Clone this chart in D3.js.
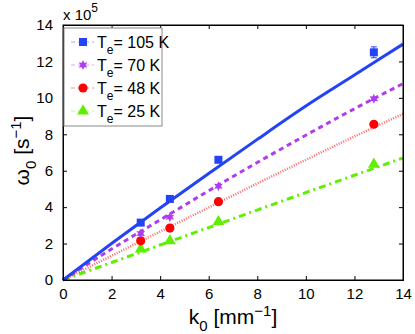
<!DOCTYPE html>
<html>
<head>
<meta charset="utf-8">
<script src="https://cdn.jsdelivr.net/npm/d3@7"></script>
<style>
  body { margin: 0; background: #fff; }
  svg text { font-family: "Liberation Sans", Arial, sans-serif; fill: #000; }
</style>
</head>
<body>
<div id="chart"></div>
<script>
// measured points (k0 in mm^-1, omega0 in units of 1e5 s^-1)
const kMeasured = [3.2, 4.4, 6.4, 12.8];
const w105 = [3.15, 4.45, 6.6, 12.5];
const w105err = [0.15, 0.1, 0.15, 0.3];
const w70 = [2.55, 3.45, 5.15, 9.95];
const w48 = [2.15, 2.85, 4.3, 8.55];
const w25 = [1.7, 2.15, 3.2, 6.35];

// model curves
const kModel = [0, 2, 4, 6, 8, 10, 12, 14];
const m105 = [0, 2.0, 3.95, 5.85, 7.72, 9.55, 11.25, 12.95];
const m70 = [0, 1.7, 3.3, 4.9, 6.45, 7.95, 9.4, 10.78];
const m48 = [0, 1.33, 2.66, 3.98, 5.3, 6.6, 7.88, 9.12];
const m25 = [0, 0.96, 1.92, 2.88, 3.84, 4.8, 5.75, 6.7];

const xTicks = [0, 2, 4, 6, 8, 10, 12, 14];
const yTicks = [0, 2, 4, 6, 8, 10, 12, 14];

const seriesNames = ["105 K", "70 K", "48 K", "25 K"];
const colors = ["#2244f5", "#b03cf2", "#ff0000", "#5ef000"];

const W = 415, H = 334;
const margin = { top: 25, right: 12, bottom: 54, left: 63 };
const iw = W - margin.left - margin.right;
const ih = H - margin.top - margin.bottom;

const svg = d3.select("#chart").append("svg")
  .attr("width", W).attr("height", H);

const g = svg.append("g")
  .attr("transform", `translate(${margin.left},${margin.top})`);

const x = d3.scaleLinear().domain([0, 14]).range([0, iw]);
const y = d3.scaleLinear().domain([0, 14]).range([ih, 0]);

// line styles per series
const styles = [
  { width: 3, dash: null, op: 1 },
  { width: 3, dash: "5,4", op: 1 },
  { width: 2.5, dash: "1,1.5", op: 0.6 },
  { width: 3, dash: "7,4,2,4", op: 1 }
];
const models = [m105, m70, m48, m25];
const measured = [w105, w70, w48, w25];

const line = d3.line().x(d => x(d[0])).y(d => y(d[1])).curve(d3.curveMonotoneX);

// draw in reverse so blue sits on top
for (let i = 3; i >= 0; i--) {
  g.append("path")
    .datum(kModel.map((k, j) => [k, models[i][j]]))
    .attr("fill", "none")
    .attr("stroke", colors[i])
    .attr("stroke-opacity", styles[i].op)
    .attr("stroke-width", styles[i].width)
    .attr("stroke-dasharray", styles[i].dash)
    .attr("d", line);
}

// six-pointed star like matlab's hexagram marker
const hexagram = {
  draw(ctx, size) {
    const R = Math.sqrt(size) * 0.6, r = R * 0.5;
    for (let k = 0; k < 12; k++) {
      const a = -Math.PI / 2 + k * Math.PI / 6;
      const rr = k % 2 ? r : R;
      if (k === 0) ctx.moveTo(rr * Math.cos(a), rr * Math.sin(a));
      else ctx.lineTo(rr * Math.cos(a), rr * Math.sin(a));
    }
    ctx.closePath();
  }
};

const symbols = [d3.symbolSquare, hexagram, d3.symbolCircle, d3.symbolTriangle];
const sizes = [64, 70, 66, 60];

function marker(sel, i, cx, cy) {
  return sel.append("path")
    .attr("d", d3.symbol().type(symbols[i]).size(sizes[i])())
    .attr("transform", `translate(${cx},${cy})`)
    .attr("fill", colors[i]);
}

// error bars on the 105 K set
const errG = g.append("g");
kMeasured.forEach((k, j) => {
  const cx = x(k);
  const y0 = y(w105[j] - w105err[j]), y1 = y(w105[j] + w105err[j]);
  errG.append("line").attr("x1", cx).attr("x2", cx).attr("y1", y0).attr("y2", y1)
    .attr("stroke", colors[0]).attr("stroke-width", 1);
  [y0, y1].forEach(yy => errG.append("line")
    .attr("x1", cx - 3).attr("x2", cx + 3).attr("y1", yy).attr("y2", yy)
    .attr("stroke", colors[0]).attr("stroke-width", 1));
});

for (let i = 3; i >= 0; i--) {
  const mg = g.append("g");
  kMeasured.forEach((k, j) => marker(mg, i, x(k), y(measured[i][j])));
}

// box + axes (ticks inward on all sides)
const tickLen = 4;
g.append("rect").attr("width", iw).attr("height", ih)
  .attr("fill", "none").attr("stroke", "#000").attr("stroke-width", 1);

const xAxis = g.append("g").attr("transform", `translate(0,${ih})`)
  .call(d3.axisBottom(x).tickValues(xTicks).tickSize(-tickLen).tickPadding(8).tickFormat(d3.format("d")));
const xAxisTop = g.append("g")
  .call(d3.axisTop(x).tickValues(xTicks).tickSize(-tickLen).tickFormat(""));
const yAxis = g.append("g")
  .call(d3.axisLeft(y).tickValues(yTicks).tickSize(-tickLen).tickPadding(10).tickFormat(d3.format("d")));
const yAxisRight = g.append("g").attr("transform", `translate(${iw},0)`)
  .call(d3.axisRight(y).tickValues(yTicks).tickSize(-tickLen).tickFormat(""));

[xAxis, xAxisTop, yAxis, yAxisRight].forEach(a => {
  a.select(".domain").attr("stroke", "#000");
  a.selectAll(".tick line").attr("stroke", "#000");
  a.selectAll("text").style("font-size", "15px").attr("fill", "#000");
});

// exponent label
const expo = svg.append("text")
  .attr("x", margin.left).attr("y", 20)
  .style("font-size", "15px");
expo.append("tspan").text("x 10");
expo.append("tspan").attr("dy", -8).style("font-size", "12px").text("5");

// axis labels
const xl = svg.append("text")
  .attr("x", margin.left + iw / 2).attr("y", 324)
  .attr("text-anchor", "middle").style("font-size", "21px");
xl.append("tspan").text("k");
xl.append("tspan").attr("dy", 7).style("font-size", "15px").text("0");
xl.append("tspan").attr("dy", -7).text(" [mm");
xl.append("tspan").attr("dy", -8).style("font-size", "15px").text("\u22121");
xl.append("tspan").attr("dy", 8).text("]");

const yl = svg.append("text")
  .attr("transform", `translate(29,${margin.top + ih / 2 - 2}) rotate(-90)`)
  .attr("text-anchor", "middle").style("font-size", "21px");
yl.append("tspan").text("\u03c9");
yl.append("tspan").attr("dy", 7).style("font-size", "15px").text("0");
yl.append("tspan").attr("dy", -7).text(" [s");
yl.append("tspan").attr("dy", -8).style("font-size", "15px").text("\u22121");
yl.append("tspan").attr("dy", 8).text("]");

// legend
const lg = svg.append("g").attr("transform", "translate(64,28)");
lg.append("rect").attr("width", 98).attr("height", 98)
  .attr("fill", "#fff").attr("stroke", "#888").attr("stroke-width", 1);
seriesNames.forEach((name, i) => {
  const ry = 14 + i * 23;
  lg.append("line").attr("x1", 7).attr("x2", 30).attr("y1", ry).attr("y2", ry)
    .attr("stroke", colors[i]).attr("stroke-width", 1).attr("stroke-opacity", 0.45)
    .attr("stroke-dasharray", "4,3");
  marker(lg, i, 19, ry);
  const t = lg.append("text").attr("x", 33).attr("y", ry + 6).style("font-size", "16px");
  t.append("tspan").text("T");
  t.append("tspan").attr("dy", 6).style("font-size", "12px").text("e");
  t.append("tspan").attr("dy", -6).text("= " + name);
});
</script>
</body>
</html>
